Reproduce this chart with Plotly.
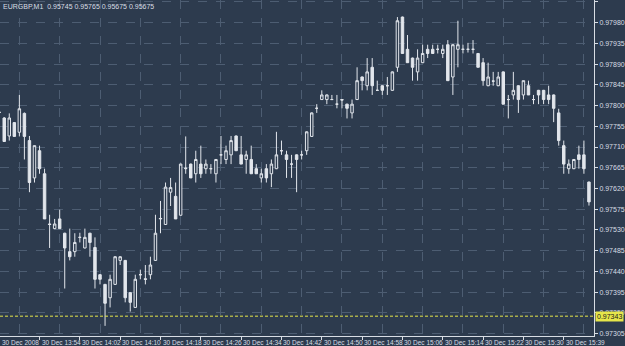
import plotly.graph_objects as go

# ---------------- data ----------------
bar_index = list(range(118))

open_ = [0.97786, 0.97773, 0.97734, 0.97763, 0.97742, 0.97783, 0.97724, 0.97643, 0.97702, 0.97652,
         0.97543, 0.97533, 0.97554, 0.97523, 0.97483, 0.97483, 0.97514, 0.97491, 0.97523, 0.97492,
         0.97433, 0.97412, 0.97383, 0.97412, 0.97464, 0.97464, 0.97394, 0.97362, 0.97433, 0.97424,
         0.97433, 0.97464, 0.97554, 0.97542, 0.97612, 0.97603, 0.97562, 0.97663, 0.97673, 0.97652,
         0.97673, 0.97663, 0.97663, 0.97652, 0.97693, 0.97683, 0.97693, 0.97734, 0.97693, 0.97683,
         0.97683, 0.97663, 0.97643, 0.97663, 0.97652, 0.97663, 0.97702, 0.97693, 0.97673, 0.97693,
         0.97693, 0.97702, 0.97733, 0.97794, 0.97813, 0.97813, 0.97813, 0.97803, 0.97813, 0.97803,
         0.97784, 0.97813, 0.97862, 0.97843, 0.97883, 0.97833, 0.97843, 0.97843, 0.97833, 0.97883,
         0.97992, 0.97922, 0.97903, 0.97873, 0.97893, 0.97922, 0.97922, 0.97922, 0.97913, 0.97932,
         0.97862, 0.97922, 0.97922, 0.97922, 0.97922, 0.97913, 0.97893, 0.97843, 0.97853, 0.97843,
         0.97873, 0.97813, 0.97823, 0.97843, 0.97823, 0.97843, 0.97813, 0.97833, 0.97833, 0.97823,
         0.97823, 0.97784, 0.97713, 0.97663, 0.97663, 0.97693, 0.97693, 0.97634]
high = [0.97790, 0.97775, 0.97783, 0.97764, 0.97823, 0.97785, 0.97734, 0.97713, 0.97713, 0.97663,
        0.97563, 0.97554, 0.97574, 0.97524, 0.97533, 0.97523, 0.97524, 0.97533, 0.97524, 0.97514,
        0.97434, 0.97413, 0.97433, 0.97473, 0.97473, 0.97465, 0.97395, 0.97433, 0.97444, 0.97454,
        0.97472, 0.97563, 0.97593, 0.97633, 0.97643, 0.97633, 0.97674, 0.97733, 0.97674, 0.97702,
        0.97713, 0.97683, 0.97673, 0.97684, 0.97734, 0.97713, 0.97734, 0.97735, 0.97734, 0.97702,
        0.97713, 0.97673, 0.97663, 0.97673, 0.97683, 0.97743, 0.97724, 0.97702, 0.97693, 0.97694,
        0.97702, 0.97744, 0.97785, 0.97803, 0.97833, 0.97824, 0.97823, 0.97823, 0.97814, 0.97804,
        0.97813, 0.97883, 0.97863, 0.97903, 0.97903, 0.97854, 0.97844, 0.97862, 0.97874, 0.97992,
        0.97993, 0.97953, 0.97904, 0.97922, 0.97932, 0.97932, 0.97932, 0.97932, 0.97932, 0.97942,
        0.97933, 0.97984, 0.97932, 0.97936, 0.97942, 0.97914, 0.97903, 0.97893, 0.97873, 0.97873,
        0.97874, 0.97823, 0.97873, 0.97844, 0.97854, 0.97854, 0.97823, 0.97834, 0.97834, 0.97843,
        0.97824, 0.97793, 0.97724, 0.97683, 0.97684, 0.97713, 0.97724, 0.97635]
low = [0.97782, 0.97722, 0.97724, 0.97733, 0.97733, 0.97683, 0.97612, 0.97633, 0.97652, 0.97554,
       0.97491, 0.97532, 0.97533, 0.97403, 0.97464, 0.97472, 0.97503, 0.97490, 0.97472, 0.97403,
       0.97412, 0.97322, 0.97362, 0.97411, 0.97454, 0.97373, 0.97353, 0.97361, 0.97423, 0.97412,
       0.97423, 0.97463, 0.97523, 0.97541, 0.97582, 0.97554, 0.97561, 0.97652, 0.97643, 0.97633,
       0.97643, 0.97652, 0.97652, 0.97633, 0.97673, 0.97673, 0.97673, 0.97702, 0.97673, 0.97652,
       0.97652, 0.97652, 0.97633, 0.97633, 0.97623, 0.97662, 0.97693, 0.97643, 0.97643, 0.97612,
       0.97683, 0.97693, 0.97732, 0.97784, 0.97812, 0.97803, 0.97812, 0.97794, 0.97794, 0.97772,
       0.97772, 0.97812, 0.97833, 0.97833, 0.97823, 0.97832, 0.97823, 0.97823, 0.97832, 0.97873,
       0.97913, 0.97893, 0.97854, 0.97854, 0.97892, 0.97903, 0.97912, 0.97913, 0.97903, 0.97854,
       0.97823, 0.97883, 0.97913, 0.97915, 0.97913, 0.97883, 0.97843, 0.97842, 0.97843, 0.97842,
       0.97803, 0.97772, 0.97813, 0.97784, 0.97813, 0.97823, 0.97803, 0.97803, 0.97803, 0.97803,
       0.97764, 0.97713, 0.97652, 0.97652, 0.97662, 0.97663, 0.97652, 0.97583]
close = [0.97785, 0.97722, 0.97773, 0.97733, 0.97793, 0.97733, 0.97633, 0.97713, 0.97663, 0.97554,
         0.97542, 0.97543, 0.97533, 0.97491, 0.97472, 0.97503, 0.97514, 0.97514, 0.97503, 0.97423,
         0.97423, 0.97371, 0.97423, 0.97472, 0.97472, 0.97383, 0.97373, 0.97423, 0.97433, 0.97423,
         0.97454, 0.97523, 0.97555, 0.97623, 0.97622, 0.97554, 0.97673, 0.97664, 0.97643, 0.97683,
         0.97652, 0.97673, 0.97663, 0.97683, 0.97693, 0.97702, 0.97724, 0.97702, 0.97673, 0.97693,
         0.97652, 0.97652, 0.97652, 0.97643, 0.97673, 0.97693, 0.97702, 0.97683, 0.97673, 0.97683,
         0.97693, 0.97743, 0.97784, 0.97794, 0.97823, 0.97823, 0.97813, 0.97803, 0.97812, 0.97794,
         0.97803, 0.97854, 0.97854, 0.97873, 0.97843, 0.97833, 0.97833, 0.97843, 0.97873, 0.97984,
         0.97913, 0.97893, 0.97883, 0.97903, 0.97913, 0.97913, 0.97913, 0.97922, 0.97922, 0.97854,
         0.97932, 0.97932, 0.97922, 0.97922, 0.97922, 0.97883, 0.97854, 0.97862, 0.97853, 0.97862,
         0.97803, 0.97813, 0.97833, 0.97813, 0.97854, 0.97823, 0.97813, 0.97823, 0.97813, 0.97813,
         0.97794, 0.97724, 0.97673, 0.97673, 0.97683, 0.97683, 0.97663, 0.97591]

time_tick_index = [0, 8, 16, 24, 32, 40, 48, 56, 64, 72, 80, 88, 96, 104, 112]
time_tick_labels = ["30 Dec 2008", "30 Dec 13:54", "30 Dec 14:02", "30 Dec 14:10", "30 Dec 14:18",
                    "30 Dec 14:26", "30 Dec 14:34", "30 Dec 14:42", "30 Dec 14:50", "30 Dec 14:58",
                    "30 Dec 15:06", "30 Dec 15:14", "30 Dec 15:22", "30 Dec 15:30", "30 Dec 15:39"]
price_ticks = [0.98025, 0.97980, 0.97935, 0.97890, 0.97845, 0.97800, 0.97755, 0.97710, 0.97665,
               0.97620, 0.97575, 0.97530, 0.97485, 0.97440, 0.97395, 0.97350, 0.97305]
ask_line = 0.97343
header = "EURGBP,M1  0.95745 0.95765 0.95675 0.95675"

# ---------------- style ----------------
BG = "#2d3b4e"
GRID = "#4d5d72"
CANDLE = "#e2e6ec"
TEXT = "#d8dde4"
YELLOW = "#e6e64a"
FONT = "Liberation Sans"
X_MIN, X_MAX = 0.16, 118.0

fig = go.Figure()
fig.add_trace(go.Candlestick(
    x=bar_index, open=open_, high=high, low=low, close=close,
    increasing=dict(line=dict(color=CANDLE, width=1), fillcolor=BG),
    decreasing=dict(line=dict(color=CANDLE, width=1), fillcolor=CANDLE),
    whiskerwidth=0, hoverinfo="skip", showlegend=False,
))

grid_pos = list(range(4, 118, 8))

fig.update_layout(
    width=625, height=346,
    margin=dict(l=0, r=24, t=0, b=10, pad=0),
    paper_bgcolor=BG, plot_bgcolor=BG,
    showlegend=False,
    font=dict(family=FONT, size=7, color=TEXT),
    xaxis=dict(
        range=[X_MIN, X_MAX], rangeslider=dict(visible=False),
        showgrid=False, zeroline=False,
        tickmode="array", tickvals=time_tick_index, showticklabels=False,
        ticks="outside", ticklen=3, tickcolor=TEXT, tickwidth=1,
        showline=True, linecolor=TEXT, linewidth=1,
        minor=dict(tickmode="array", tickvals=grid_pos, showgrid=True,
                   gridcolor=GRID, griddash="dash", gridwidth=1, ticks=""),
    ),
    yaxis=dict(
        side="right", range=[0.97300, 0.98029],
        tickmode="array", tickvals=price_ticks, tickformat=".5f",
        showgrid=True, gridcolor=GRID, griddash="dash", gridwidth=1,
        zeroline=False, ticks="outside", ticklen=3, tickcolor=TEXT,
        showline=True, linecolor=TEXT, linewidth=1,
        tickfont=dict(family=FONT, size=7, color=TEXT),
    ),
)

fig.add_shape(type="line", xref="paper", yref="y", x0=0, x1=1, y0=ask_line, y1=ask_line,
              line=dict(color=YELLOW, width=1, dash="3px,2px"))

for xi, lab in zip(time_tick_index, time_tick_labels):
    fig.add_annotation(x=max(xi, X_MIN + 0.05), xref="x", y=0, yref="paper", text=lab,
                       showarrow=False, xanchor="left", yanchor="top", xshift=0, yshift=-1,
                       font=dict(family=FONT, size=6.5, color=TEXT))

fig.add_annotation(x=1, xref="paper", y=ask_line, yref="y", text=f"{ask_line:.5f}",
                   showarrow=False, xanchor="left", yanchor="middle", xshift=1,
                   bgcolor=YELLOW, borderpad=1,
                   font=dict(family=FONT, size=7, color="#1a1a1a"))

fig.add_annotation(x=0, xref="paper", y=1, yref="paper", text=header, showarrow=False,
                   xanchor="left", yanchor="top", xshift=1, yshift=-1,
                   font=dict(family=FONT, size=7, color=TEXT))

fig.write_html("out.html")
